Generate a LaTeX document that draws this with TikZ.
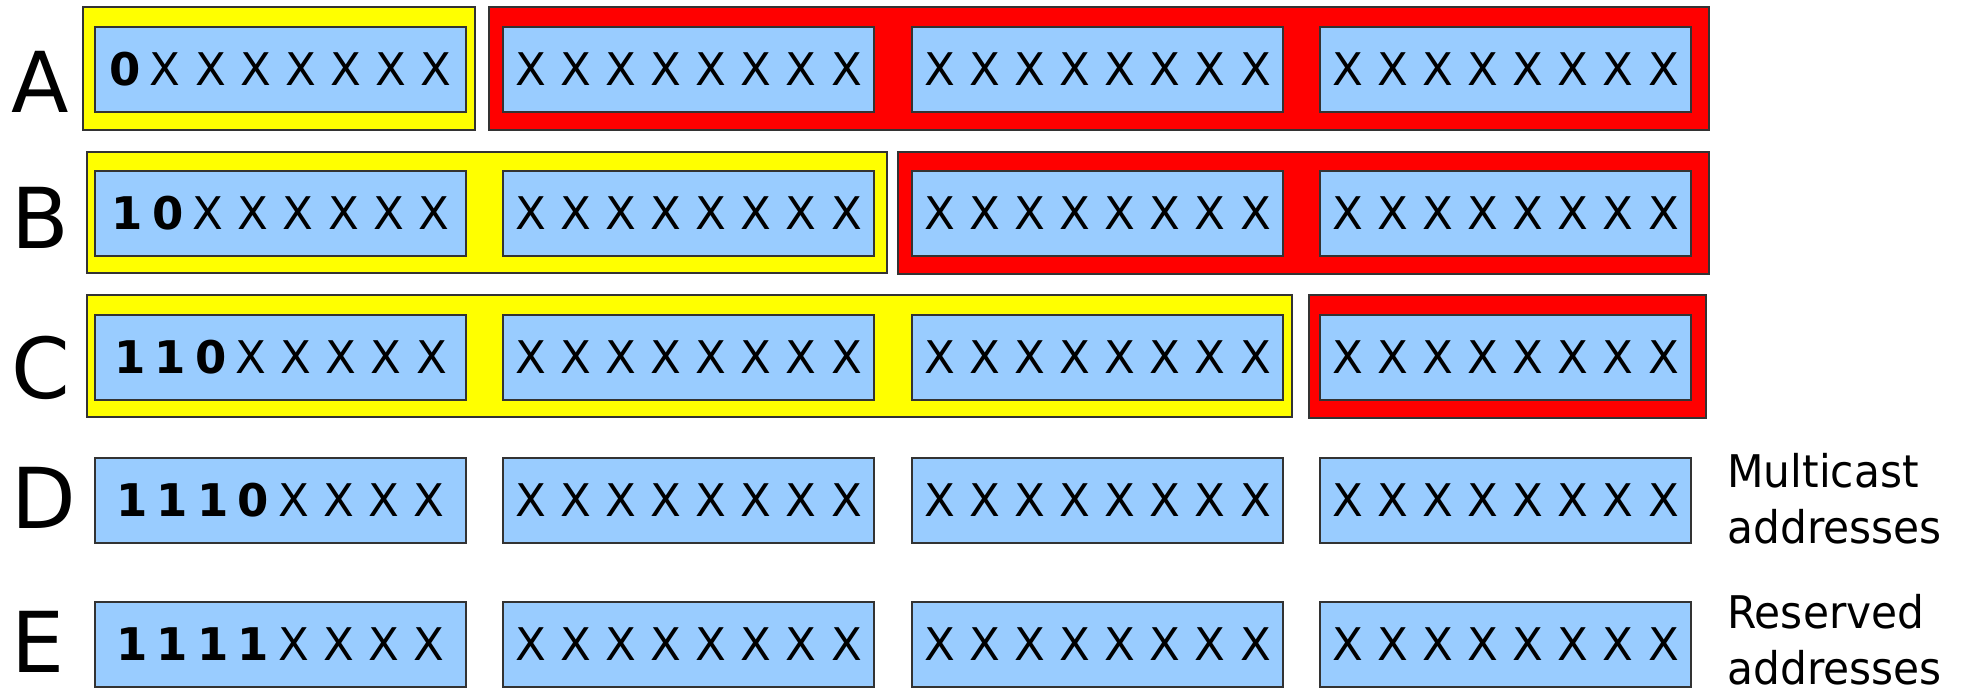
\documentclass[tikz,border=0pt]{standalone}
\usepackage{fontspec}
\setmainfont{DejaVu Sans}
\newfontfamily\lblfont[FakeStretch=0.94]{DejaVu Sans}
\usetikzlibrary{fit}
\definecolor{ipblue}{HTML}{99CCFF}
\definecolor{ipyellow}{HTML}{FFFF00}
\definecolor{ipred}{HTML}{FF0000}
\definecolor{ipline}{HTML}{333333}
\newcommand{\dg}[1]{\textbf{#1}\hspace{4.6pt}}
\newcommand{\xs}{X X X X X X X X}
\begin{document}
\begin{tikzpicture}[x=0.5pt,y=-0.5pt,
  octet/.style={draw=ipline, line width=0.6pt, fill=ipblue, minimum width=185.5pt, minimum height=42.5pt, inner sep=0pt, font=\fontsize{22.5}{27}\selectfont},
  netpart/.style={draw=ipline, line width=0.6pt, fill=ipyellow, inner sep=0pt},
  hostpart/.style={draw=ipline, line width=0.6pt, fill=ipred, inner sep=0pt},
  classlbl/.style={anchor=base west, inner sep=0pt, font=\fontsize{42}{50}\selectfont},
  sidelbl/.style={anchor=north west, inner sep=0pt, font=\lblfont\fontsize{22.5}{28}\selectfont, align=left}]
\useasboundingbox (0,0) rectangle (1967,687);
% background parts
\node[netpart, fit={(83,7) (475,130)}] (ay) {};
\node[hostpart, fit={(489,7) (1709,130)}] (ar) {};
\node[netpart, fit={(87,152) (887,273)}] (by) {};
\node[hostpart, fit={(898,152) (1709,274)}] (br) {};
\node[netpart, fit={(87,295) (1292,417)}] (cy) {};
\node[hostpart, fit={(1309,295) (1706,418)}] (cr) {};
% octets
\node[octet] (a1) at (280.5,69.5) {\dg{0}X X X X X X X};
\node[octet] (a2) at (688.5,69.5) {\xs};
\node[octet] (a3) at (1097.5,69.5) {\xs};
\node[octet] (a4) at (1505.5,69.5) {\xs};
\node[octet] (b1) at (280.5,213.5) {\dg{1}\dg{0}X X X X X X};
\node[octet] (b2) at (688.5,213.5) {\xs};
\node[octet] (b3) at (1097.5,213.5) {\xs};
\node[octet] (b4) at (1505.5,213.5) {\xs};
\node[octet] (c1) at (280.5,357.5) {\dg{1}\dg{1}\dg{0}X X X X X};
\node[octet] (c2) at (688.5,357.5) {\xs};
\node[octet] (c3) at (1097.5,357.5) {\xs};
\node[octet] (c4) at (1505.5,357.5) {\xs};
\node[octet] (d1) at (280.5,500.5) {\dg{1}\dg{1}\dg{1}\dg{0}X X X X};
\node[octet] (d2) at (688.5,500.5) {\xs};
\node[octet] (d3) at (1097.5,500.5) {\xs};
\node[octet] (d4) at (1505.5,500.5) {\xs};
\node[octet] (e1) at (280.5,644.5) {\dg{1}\dg{1}\dg{1}\dg{1}X X X X};
\node[octet] (e2) at (688.5,644.5) {\xs};
\node[octet] (e3) at (1097.5,644.5) {\xs};
\node[octet] (e4) at (1505.5,644.5) {\xs};
% class letters
\node[classlbl] (la) at (11,112) {A};
\node[classlbl] (lb) at (11,248) {B};
\node[classlbl] (lc) at (11,398) {C};
\node[classlbl] (ld) at (11,528) {D};
\node[classlbl] (le) at (11,672) {E};
% side labels
\node[sidelbl] (md) at (1727,453) {Multicast\\addresses};
\node[sidelbl] (rs) at (1727,594) {Reserved\\addresses};
\end{tikzpicture}
\end{document}
